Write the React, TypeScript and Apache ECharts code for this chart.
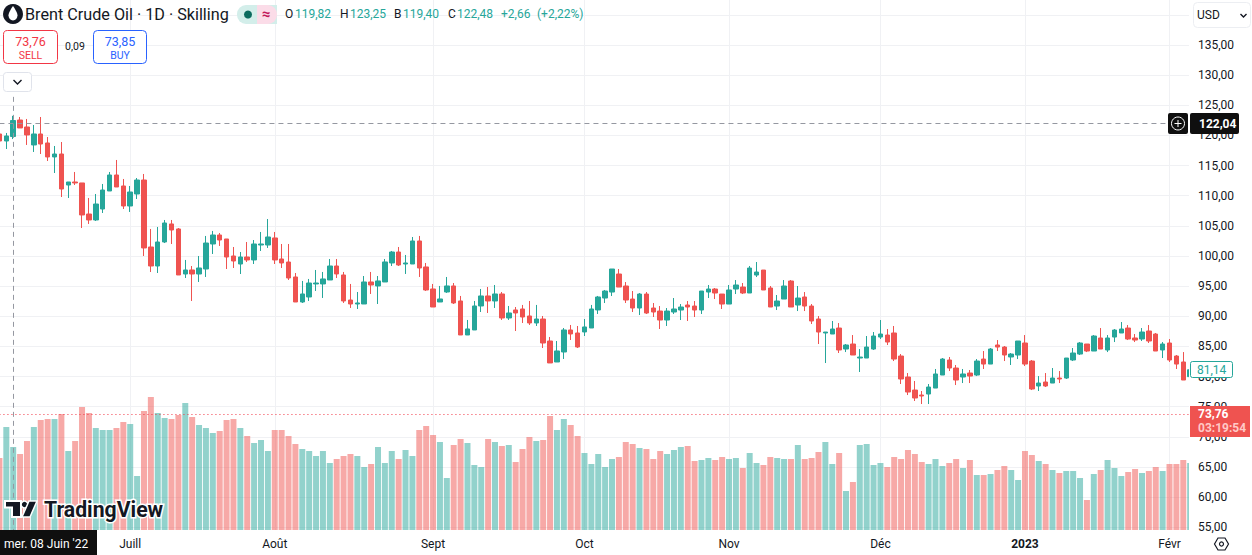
import React, { useEffect, useRef } from "react";
import * as echarts from "echarts";

const opens = [120.24,119.08,119.82,122.56,121.40,118.42,120.24,118.75,116.43,116.92,
111.78,112.28,112.12,106.97,105.98,107.80,110.79,113.44,111.62,108.30,
110.29,112.61,101.50,98.35,102.33,105.32,104.49,97.02,97.69,97.02,
97.85,102.00,103.49,102.83,100.01,98.68,99.84,99.35,101.83,101.83,
103.00,99.51,99.01,96.53,92.38,93.21,95.37,95.37,96.03,98.35,
96.86,92.71,92.05,92.05,95.70,95.04,95.70,98.85,100.67,98.68,
98.68,102.50,98.19,94.54,92.38,94.04,95.04,92.55,86.91,87.74,
91.72,93.38,92.55,93.71,89.73,91.06,91.22,90.06,88.90,89.56,
85.91,82.43,84.09,87.74,87.24,87.41,88.07,91.06,93.04,94.03,
97.02,95.03,92.87,91.38,93.70,91.38,90.88,89.39,90.72,91.05,
91.88,91.71,91.05,94.03,94.53,93.70,92.04,94.53,94.86,93.87,
96.85,97.68,94.70,91.71,92.87,95.86,91.88,93.21,91.71,89.56,
87.24,87.07,88.06,84.58,85.41,83.09,83.09,84.58,86.57,86.90,
87.24,83.42,79.94,77.78,76.95,77.12,78.11,80.27,82.76,81.43,
79.94,80.60,80.27,82.92,82.09,85.25,84.91,83.26,83.59,85.58,
82.59,78.45,79.11,78.94,79.77,79.77,82.76,83.75,85.41,84.25,
86.41,84.42,86.57,87.24,88.06,86.41,86.24,87.57,87.07,84.42,
85.58,83.42,82.43,80.00];

const closes = [119.08,119.91,122.48,121.24,120.08,120.24,118.58,116.43,116.92,111.12,
112.28,112.12,106.81,105.98,108.63,110.95,113.44,111.45,108.30,110.62,
112.61,101.34,98.35,102.33,105.48,104.32,96.86,97.69,97.02,98.02,
102.16,103.49,102.66,99.84,99.18,99.84,99.35,102.00,102.00,103.16,
99.35,98.85,96.36,92.38,93.71,95.53,95.53,96.20,98.35,97.03,
92.55,92.05,92.22,95.70,95.20,95.87,99.02,100.67,98.52,98.85,
102.50,98.02,94.37,91.55,92.88,95.04,92.22,86.91,87.91,91.72,
93.38,92.55,93.71,89.73,90.56,90.56,89.89,88.90,89.56,85.58,
82.27,84.26,87.74,87.08,84.92,88.24,91.22,93.21,94.20,97.85,
94.86,92.71,91.38,93.70,90.55,90.72,89.39,90.88,91.22,91.55,
91.55,91.05,94.20,94.53,93.87,92.04,94.37,95.20,93.87,98.01,
97.35,94.37,91.55,92.54,95.03,91.55,93.04,91.71,89.23,87.40,
87.40,87.90,84.42,85.25,83.59,83.25,84.91,86.74,87.07,85.74,
82.92,79.61,77.45,76.46,76.79,78.28,80.44,82.92,81.43,79.44,
80.44,80.10,82.59,82.09,84.58,84.91,83.59,83.75,85.91,82.09,
77.95,78.94,78.45,79.77,79.61,83.09,83.92,85.58,84.25,86.74,
84.58,86.41,87.73,87.90,86.24,86.07,87.40,85.91,84.25,85.41,
82.76,82.09,79.44,81.14];

const highs = [120.6,120.41,123.25,123.06,122.73,121.73,123.06,119.74,118.25,118.91,
112.28,113.94,112.12,109.63,110.29,111.95,113.94,115.93,112.78,111.62,
112.94,113.61,104.49,104.82,105.98,105.98,104.65,99.35,98.35,100.01,
103.33,104.16,103.82,102.83,101.50,100.67,102.33,102.66,103.99,106.14,
103.99,102.0,102.0,97.19,95.87,96.20,97.69,97.36,99.51,99.51,
97.36,95.37,94.04,96.69,97.36,96.69,99.51,100.84,101.50,100.18,
103.16,103.33,98.85,95.37,95.04,96.53,95.53,93.38,89.40,92.55,
94.54,94.87,95.20,94.04,91.72,91.55,91.89,92.55,91.89,90.06,
86.58,85.91,88.07,88.57,88.40,89.56,91.89,93.38,94.37,97.85,
97.85,95.69,94.20,93.87,94.03,92.21,91.71,91.38,93.04,92.04,
92.54,92.54,94.20,95.20,94.70,93.70,95.20,96.02,95.53,98.35,
99.01,97.68,95.03,93.54,96.02,96.02,95.03,94.03,92.04,90.05,
87.40,89.23,88.89,85.41,86.90,84.58,86.74,87.40,89.39,87.90,
88.40,83.75,80.60,79.28,77.62,78.78,81.27,83.09,83.26,81.93,
81.27,81.10,82.92,84.25,84.75,86.07,85.08,83.92,85.91,86.90,
82.76,80.10,80.60,81.43,80.93,83.09,84.75,85.74,85.41,86.90,
88.06,86.90,87.90,89.06,88.56,87.07,88.06,88.56,87.24,85.74,
86.24,83.59,84.08,81.30];

const lows = [118.5,117.75,119.40,121.24,118.42,117.26,116.92,115.76,113.77,109.79,
109.63,111.78,104.65,105.32,105.81,107.14,110.79,111.45,107.80,107.31,
109.46,100.01,97.35,97.19,102.16,102.0,96.86,96.36,92.55,95.70,
96.53,100.34,101.67,97.85,98.02,97.02,99.01,98.68,100.84,101.34,
98.68,98.02,96.03,92.38,92.22,92.55,94.21,93.05,96.03,96.36,
92.22,91.39,91.22,92.05,93.71,92.05,95.70,98.35,98.35,97.03,
98.68,96.53,94.21,91.55,92.38,93.88,92.05,86.91,86.91,87.74,
90.72,90.56,91.39,89.40,89.40,87.57,88.90,88.57,88.40,84.75,
82.27,82.43,82.93,86.08,84.75,86.74,88.07,90.39,92.21,93.37,
94.86,92.21,90.72,90.22,90.39,89.89,87.90,88.40,90.39,89.39,
89.23,89.89,90.39,93.04,92.87,91.22,92.04,93.70,93.70,93.87,
96.52,94.37,91.55,91.05,92.87,91.55,90.88,90.88,88.73,85.41,
82.26,87.07,83.92,84.08,83.59,80.77,83.09,84.42,86.24,85.25,
82.59,78.78,76.95,75.96,75.46,75.46,78.11,80.27,80.93,78.61,
78.94,78.94,80.10,81.27,82.09,84.25,82.59,81.93,82.92,81.76,
77.78,77.62,78.28,78.94,78.94,79.61,82.59,83.59,84.08,84.25,
84.58,84.08,85.74,87.24,86.07,85.74,85.91,85.58,84.25,83.09,
82.43,81.27,79.44,79.90];

const volumes = [72,103,83,76,89,103,110,111,111,116,
79,89,123,117,102,100,100,102,108,106,
54,119,133,117,112,111,115,127,113,105,
102,97,99,110,111,102,94,87,90,79,
100,100,94,86,81,79,74,79,67,71,
74,76,74,63,66,83,67,79,71,80,
74,100,104,95,88,52,85,91,87,65,
63,91,88,84,85,68,81,93,89,90,
114,100,111,105,94,77,66,76,63,71,
73,88,86,82,81,71,79,76,80,83,
84,69,70,72,70,73,71,72,62,77,
67,65,73,72,71,71,85,71,72,78,
88,66,77,39,48,85,86,65,67,63,
73,71,80,76,68,66,71,64,67,71,
62,70,55,55,56,60,64,60,50,79,
75,69,66,60,57,59,59,52,30,56,
60,70,62,54,58,61,57,59,63,59,
66,66,70,67];

const monthLabels: Record<number, string> = { 19: "Juill", 40: "Août", 63: "Sept", 85: "Oct", 106: "Nov", 128: "Déc", 149: "2023", 170: "Févr" };
const categories = opens.map((_, i) => String(i));
const FONT = "Roboto";
const UP = "#26a69a";
const DOWN = "#ef5350";
const INK = "#131722";

echarts.graphic.registerShape("dropIcon", echarts.graphic.extendPath("M6 0C6 0 12 7 12 11A6 6 0 0 1 0 11C0 7 6 0 6 0Z", {}));

const fmt = (v: number) => v.toFixed(2).replace(".", ",");

const T = (text: string, x: number, y: number, fill: string, size: number, weight = "normal", align = "left", extra: any = {}) => ({
  type: "text", z: 80, silent: true,
  style: { text, x, y, fill, font: `${weight} ${size}px ${FONT}`, textAlign: align, textVerticalAlign: "middle", ...extra },
});
const R = (x: number, y: number, width: number, height: number, fill: string, stroke = "none", r = 0, z = 75) => ({
  type: "rect", z, silent: true,
  shape: { x, y, width, height, r },
  style: { fill, stroke, lineWidth: 1 },
});
const L = (pts: number[][], stroke: string, lineWidth = 1.4, z = 80) => ({
  type: "polyline", z, silent: true, shape: { points: pts }, style: { stroke, fill: "none", lineWidth },
});

const elements: any[] = [
  R(1189, 0, 63, 555, "#ffffff", "none", 0, 50),
  // header
  { type: "circle", z: 80, silent: true, shape: { cx: 13, cy: 14, r: 10 }, style: { fill: INK } },
  { type: "dropIcon", z: 81, silent: true, x: 8.5, y: 6, scaleX: 0.75, scaleY: 0.85, style: { fill: "#ffffff" } },
  T("Brent Crude Oil · 1D · Skilling", 25, 14, INK, 16.2),
  { type: "rect", z: 75, silent: true, shape: { x: 237, y: 5, width: 40, height: 19, r: [9, 0, 0, 9] }, style: { fill: "#d3eeea" } },
  { type: "rect", z: 75, silent: true, shape: { x: 257, y: 5, width: 20, height: 19, r: [0, 9, 9, 0] }, style: { fill: "#fbdce8" } },
  { type: "circle", z: 80, silent: true, shape: { cx: 248, cy: 14.5, r: 4 }, style: { fill: "#0b6b5e" } },
  T("≈", 266, 14, "#c2185b", 15, "bold", "center"),
  T("O", 285, 14, INK, 12), T("119,82", 295, 14, UP, 12),
  T("H", 340, 14, INK, 12), T("123,25", 350, 14, UP, 12),
  T("B", 394, 14, INK, 12), T("119,40", 403, 14, UP, 12),
  T("C", 448, 14, INK, 12), T("122,48", 457, 14, UP, 12),
  T("+2,66", 501, 14, UP, 12), T("(+2,22%)", 537, 14, UP, 12),
  // buy & sell
  R(3.5, 30.5, 54, 33, "#ffffff", "#f23645", 4),
  T("73,76", 30.5, 41, "#f23645", 12.5, "normal", "center"),
  T("SELL", 30.5, 55, "#f23645", 10.5, "normal", "center"),
  T("0,09", 75, 46, INK, 10.5, "normal", "center"),
  R(93.5, 30.5, 53, 33, "#ffffff", "#2962ff", 4),
  T("73,85", 120, 41, "#2962ff", 12.5, "normal", "center"),
  T("BUY", 120, 55, "#2962ff", 10.5, "normal", "center"),
  R(3.5, 72.5, 28, 19, "#ffffff", "#e0e3eb", 3),
  L([[13.5, 80], [17.5, 84], [21.5, 80]], INK),
  // USD
  R(1193.5, 2.5, 57, 25, "#ffffff", "#eceef2", 4),
  T("USD", 1197, 15, INK, 12),
  L([[1240.5, 14], [1243.5, 17], [1246.5, 14]], INK),
  // crosshair tags
  R(1168, 113, 20, 21, "#0f0f0f", "none", 2),
  { type: "circle", z: 80, silent: true, shape: { cx: 1178, cy: 123.5, r: 6.5 }, style: { fill: "none", stroke: "#ffffff", lineWidth: 1 } },
  L([[1174.5, 123.5], [1181.5, 123.5]], "#ffffff", 1),
  L([[1178, 120], [1178, 127]], "#ffffff", 1),
  R(1190, 113, 49, 21, "#0f0f0f", "none", 2),
  T("122,04", 1199, 123.5, "#ffffff", 12, "bold"),
  // last visible price
  R(1190.5, 361.5, 42, 16, "#ffffff", UP, 2),
  T("81,14", 1197, 369.5, UP, 12),
  // live price
  R(1190, 406, 60, 31, DOWN),
  T("73,76", 1198, 414, "#ffffff", 12, "bold"),
  T("03:19:54", 1198, 428, "#ffc9c7", 12, "bold"),
  // date tag
  R(0, 530, 97, 25, "#0f0f0f"),
  T("mer. 08 Juin '22", 4, 544, "#ffffff", 12),
  // settings
  { type: "polygon", z: 80, silent: true, shape: { points: [[1214.5, 544], [1218, 538], [1225, 538], [1228.5, 544], [1225, 550], [1218, 550]] }, style: { fill: "#ffffff", stroke: INK, lineWidth: 1.2 } },
  { type: "circle", z: 81, silent: true, shape: { cx: 1221.5, cy: 544, r: 2 }, style: { fill: "none", stroke: INK, lineWidth: 1.2 } },
  // watermark
  { type: "polygon", z: 70, silent: true, shape: { points: [[5, 501], [21, 501], [21, 517], [12, 517], [12, 507.5], [5, 507.5]] }, style: { fill: "#131722", stroke: "#ffffff", lineWidth: 2 } },
  { type: "circle", z: 70, silent: true, shape: { cx: 24.5, cy: 504.5, r: 3.4 }, style: { fill: "#131722", stroke: "#ffffff", lineWidth: 1.5 } },
  { type: "polygon", z: 70, silent: true, shape: { points: [[29, 501], [37, 501], [30, 517], [22, 517]] }, style: { fill: "#131722", stroke: "#ffffff", lineWidth: 1.5 } },
  T("TradingView", 44, 509.5, "#131722", 21.2, "bold", "left", { stroke: "#ffffff", lineWidth: 3 }),
];

const priceAxisBase = { type: "value", gridIndex: 1, position: "right", min: 50, max: 145, interval: 5, axisLine: { show: false }, axisTick: { show: false } };

const option: any = {
  animation: false,
  backgroundColor: "#ffffff",
  textStyle: { fontFamily: FONT },
  grid: [
    { left: -4, top: 0, width: 1197.6, height: 530, containLabel: false, outerBoundsMode: "none" },
    { left: 0, top: -15.3, width: 1189, height: 572.7, containLabel: false, outerBoundsMode: "none" },
  ],
  xAxis: [
    {
      type: "category", gridIndex: 0, data: categories, position: "bottom",
      axisLine: { show: false }, axisTick: { show: false },
      axisLabel: {
        show: true, interval: (i: number) => monthLabels[i] !== undefined, margin: 8,
        formatter: (v: string) => { const s = monthLabels[Number(v)]; return s === "2023" ? `{b|${s}}` : s ?? ""; },
        color: INK, fontSize: 12, fontFamily: FONT,
        rich: { b: { fontWeight: "bold", fontSize: 12, color: INK, fontFamily: FONT } },
      },
      splitLine: { show: true, alignWithLabel: true, interval: (i: number) => monthLabels[i] !== undefined, lineStyle: { color: "#f0f1f4", width: 1 } },
    },
    { type: "category", gridIndex: 1, data: [], show: false },
  ],
  yAxis: [
    { type: "value", gridIndex: 0, min: 0, max: 530, show: false, splitLine: { show: false } },
    { type: "value", gridIndex: 0, min: 54.57, max: 142.46, show: false, splitLine: { show: false } },
    { ...priceAxisBase, z: 0, axisLabel: { show: false }, splitLine: { show: true, lineStyle: { color: "#f0f1f4", width: 1 } } },
    {
      ...priceAxisBase, z: 60, splitLine: { show: false },
      axisLabel: {
        margin: 9, color: INK, fontSize: 12, fontFamily: FONT, padding: [0, 0, 2, 0],
        formatter: (v: number) => (v >= 55 && v <= 135 ? fmt(v) : ""),
      },
    },
  ],
  series: [
    {
      type: "bar", xAxisIndex: 0, yAxisIndex: 0, barWidth: 6, z: 1,
      data: volumes.map((v, i) => ({
        value: v,
        itemStyle: { color: closes[i] >= opens[i] ? "rgba(38,166,154,0.5)" : "rgba(239,83,80,0.5)" },
      })),
    },
    {
      type: "candlestick", xAxisIndex: 0, yAxisIndex: 1, barWidth: 5, z: 3,
      itemStyle: { color: UP, color0: DOWN, borderColor: UP, borderColor0: DOWN, borderWidth: 1 },
      data: opens.map((o, i) => [o, closes[i], lows[i], highs[i]]),
      markLine: {
        silent: true, symbol: "none", animation: false, label: { show: false },
        data: [
          [{ xAxis: 0, yAxis: 122.04, lineStyle: { color: "#9598a1", type: [5, 4], width: 1 } }, { xAxis: 170, yAxis: 122.04 }],
          [{ xAxis: 2, yAxis: 126.4, lineStyle: { color: "#9598a1", type: [5, 4], width: 1 } }, { xAxis: 2, yAxis: 54.57 }],
          [{ xAxis: 0, yAxis: 73.76, lineStyle: { color: "#f23645", type: [1, 3], width: 1 } }, { xAxis: 173, yAxis: 73.76 }],
        ],
      },
    },
  ],
  graphic: { elements },
};

export default function App() {
  const ref = useRef<HTMLDivElement>(null);
  useEffect(() => {
    const chart = echarts.init(ref.current!, undefined, { renderer: "svg" });
    chart.setOption(option);
    return () => chart.dispose();
  }, []);
  return <div ref={ref} style={{ position: "fixed", left: 0, top: 0, width: 1252, height: 555 }} />;
}
